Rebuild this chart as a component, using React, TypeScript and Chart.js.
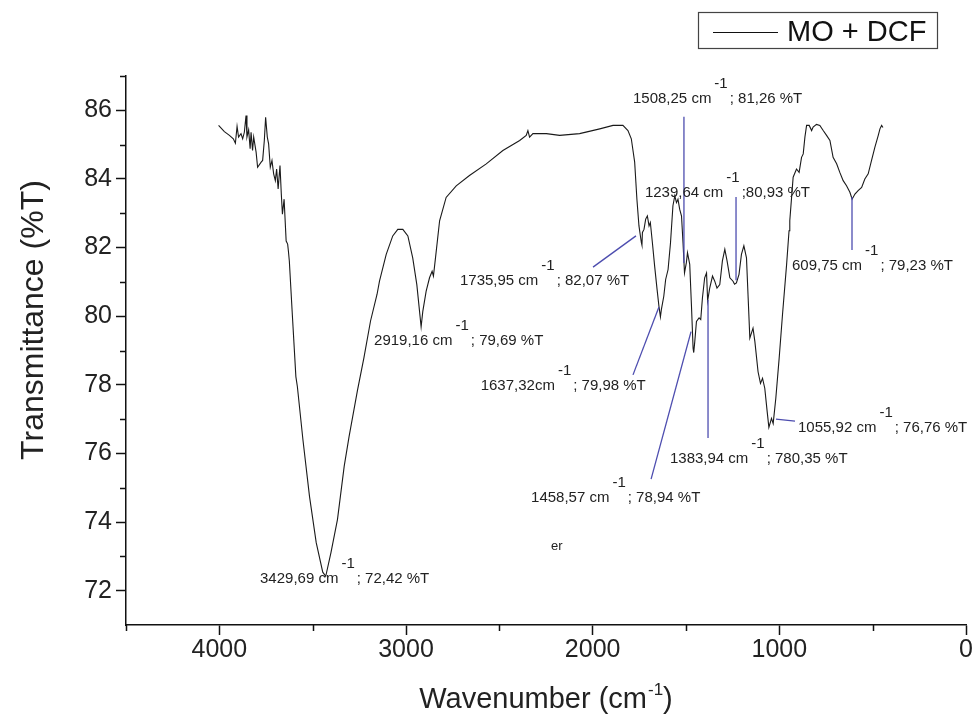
import React, { useEffect, useRef } from 'react';
import { Chart, registerables } from 'chart.js';

Chart.register(...registerables);

// ---------- data ----------
const seriesLabel = 'MO + DCF';

const wavenumbers = [
  4004, 3973, 3946, 3925, 3914, 3905, 3897, 3884, 3875, 3866, 3857, 3852, 3843, 3835, 3830, 3822, 3816, 3803, 3795, 3776,
  3768, 3759, 3752, 3743, 3736, 3727, 3718, 3709, 3700, 3693, 3685, 3675, 3668, 3662, 3653, 3642, 3634, 3630, 3625,
  3609, 3590, 3582, 3552, 3517, 3481, 3446, 3430, 3402, 3367, 3331, 3305, 3260, 3225, 3190, 3155,
  3142, 3106, 3071, 3044, 3017, 2990, 2964, 2942, 2919, 2910, 2892, 2874, 2860, 2853, 2842, 2820, 2785, 2731, 2660, 2570,
  2481, 2391, 2356, 2347, 2338, 2320, 2248, 2177, 2070, 1962, 1891, 1838, 1811,
  1793, 1775, 1763, 1752, 1739, 1736, 1733.5, 1725, 1716, 1707, 1698, 1691, 1680, 1668, 1655, 1645, 1637, 1632, 1619,
  1609, 1596, 1583, 1570, 1560, 1551, 1543, 1534, 1524, 1516, 1508, 1498, 1492, 1480, 1471, 1462, 1458.6, 1453, 1444,
  1430, 1421, 1412, 1400, 1390, 1384, 1373, 1358, 1346, 1334, 1319, 1305, 1292, 1280, 1265, 1248, 1240, 1230, 1216,
  1203, 1190, 1176, 1167, 1158, 1141, 1131, 1114, 1101, 1090, 1078, 1065, 1056, 1042, 1033, 1019, 1001, 983, 961,
  948, 944, 926, 908, 894, 881, 872, 863, 854, 840, 827, 819, 801, 783, 765, 747, 729, 712, 693, 676, 658, 640, 622,
  610, 595, 578, 559, 542, 524, 506, 488, 470, 461, 452, 445,
];

const transmittance = [
  85.56, 85.38, 85.27, 85.17, 85.04, 85.53, 85.22, 85.32, 85.17, 85.36, 85.85, 85.22, 85.43, 84.88, 85.36, 84.83, 85.22, 84.78, 84.34, 84.49,
  84.54, 85.12, 85.80, 85.22, 85.02, 84.34, 84.54, 84.15, 83.95, 84.29, 83.71, 84.39, 83.56, 82.97, 83.41, 82.19, 82.10, 81.90, 81.61,
  80.05, 78.24, 77.95, 76.39, 74.75, 73.40, 72.54, 72.42, 73.11, 74.08, 75.63, 76.49, 77.84, 78.80, 79.86, 80.64,
  81.02, 81.80, 82.34, 82.53, 82.53, 82.34, 81.70, 80.92, 79.69, 80.14, 80.73, 81.12, 81.31, 81.17, 81.70, 82.78, 83.46, 83.80, 84.10, 84.44,
  84.83, 85.12, 85.27, 85.41, 85.22, 85.32, 85.32, 85.27, 85.32, 85.46, 85.56, 85.56, 85.41,
  85.17, 84.49, 83.41, 82.63, 82.14, 82.07, 82.44, 82.53, 82.83, 82.92, 82.63, 82.73, 82.14, 81.46, 80.78, 80.29, 79.98, 80.19, 80.58,
  81.07, 81.36, 82.14, 83.22, 83.51, 83.31, 83.41, 83.12, 82.92, 82.14, 81.26, 81.56, 81.85, 81.51, 80.34, 79.07, 78.94, 79.26, 79.85,
  79.95, 79.90, 80.53, 81.12, 81.26, 80.45, 80.82, 81.17, 81.02, 80.82, 80.92, 81.61, 81.95, 81.61, 81.12, 81.02, 80.93, 80.97, 81.22,
  81.80, 82.05, 81.70, 80.53, 79.36, 79.65, 79.26, 78.38, 78.04, 78.19, 77.90, 77.21, 76.76, 77.02, 76.87, 77.60, 78.77, 80.05, 81.51,
  82.49, 82.78, 84.05, 84.29, 84.19, 84.63, 84.73, 85.22, 85.56, 85.56, 85.41, 85.51, 85.59, 85.56, 85.41, 85.27, 85.12, 84.63, 84.44, 84.19, 83.95, 83.80, 83.61,
  83.41, 83.56, 83.66, 83.75, 84.00, 84.15, 84.54, 84.93, 85.27, 85.46, 85.56, 85.50,
];

const xTickLabels = ['4000', '3000', '2000', '1000', '0'];
const yTickLabels = ['72', '74', '76', '78', '80', '82', '84', '86'];
const xMinorTicks = [4500, 3500, 2500, 1500, 500];
const yMinorTicks = [73, 75, 77, 79, 81, 83, 85, 87];

const xTitleMain = 'Wavenumber (cm';
const xTitleSup = '-1';
const xTitleEnd = ')';
const yTitle = 'Transmittance (%T)';

// peak annotations: label parts, label anchor (data units), leader line (data units)
const peakNames = ['3429,69 cm', '2919,16 cm', '1735,95 cm', '1637,32cm', '1508,25 cm', '1239,64 cm', '609,75 cm', '1055,92 cm', '1383,94 cm', '1458,57 cm'];
const peakValues = ['; 72,42 %T', '; 79,69 %T', '; 82,07 %T', '; 79,98 %T', '; 81,26 %T', ';80,93 %T', '; 79,23 %T', '; 76,76 %T', '; 780,35 %T', '; 78,94 %T'];
const labelX = [3782, 3171, 2711, 2600, 1784, 1720, 932, 900, 1586, 2330];
const labelY = [72.22, 79.16, 80.91, 77.85, 86.21, 83.47, 81.35, 76.62, 75.72, 74.58];
const leaderX1 = [null, null, 1998, 1784, 1511, 1232, 610.7, 1018, 1382, 1687];
const leaderY1 = [null, null, 81.43, 78.29, 85.81, 83.47, 83.47, 77.0, 80.47, 75.25];
const leaderX2 = [null, null, 1768, 1645, 1511, 1232, 610.7, 916, 1382, 1473];
const leaderY2 = [null, null, 82.34, 80.27, 81.55, 81.05, 81.93, 76.94, 76.45, 79.55];
const strayText = 'er';
const strayX = 2223;
const strayY = 73.18;

// ---------- drawing helpers ----------
const FONT = '"Liberation Sans", Arial, Helvetica, sans-serif';

function drawText(ctx: CanvasRenderingContext2D, text: string, x: number, y: number, size: number) {
  ctx.save();
  ctx.font = `${size}px ${FONT}`;
  ctx.textAlign = 'left';
  ctx.textBaseline = 'alphabetic';
  ctx.fillText(text, x, y);
  const w = ctx.measureText(text).width;
  ctx.restore();
  return w;
}

function measure(ctx: CanvasRenderingContext2D, text: string, size: number) {
  ctx.save();
  ctx.font = `${size}px ${FONT}`;
  const w = ctx.measureText(text).width;
  ctx.restore();
  return w;
}

const decorPlugin = {
  id: 'decor',
  afterDraw(chart: any) {
    const ctx: CanvasRenderingContext2D = chart.ctx;
    const xs = chart.scales.x;
    const ys = chart.scales.y;
    const area = chart.chartArea;

    // minor ticks
    ctx.save();
    ctx.strokeStyle = '#111';
    ctx.lineWidth = 1.5;
    ctx.beginPath();
    xMinorTicks.forEach((v) => {
      const px = Math.round(xs.getPixelForValue(v)) + 0.5;
      ctx.moveTo(px, area.bottom);
      ctx.lineTo(px, area.bottom + 6);
    });
    yMinorTicks.forEach((v) => {
      const py = Math.round(ys.getPixelForValue(v)) + 0.5;
      ctx.moveTo(area.left - 6, py);
      ctx.lineTo(area.left, py);
    });
    ctx.stroke();
    ctx.restore();

    // leader lines
    ctx.save();
    ctx.strokeStyle = '#4d4daf';
    ctx.lineWidth = 1.3;
    for (let i = 0; i < peakNames.length; i++) {
      if (leaderX1[i] == null) continue;
      ctx.beginPath();
      ctx.moveTo(xs.getPixelForValue(leaderX1[i]), ys.getPixelForValue(leaderY1[i]));
      ctx.lineTo(xs.getPixelForValue(leaderX2[i]), ys.getPixelForValue(leaderY2[i]));
      ctx.stroke();
    }
    ctx.restore();

    // peak labels
    ctx.save();
    ctx.fillStyle = '#222';
    const fs = 15;
    for (let i = 0; i < peakNames.length; i++) {
      const px = xs.getPixelForValue(labelX[i]);
      const py = ys.getPixelForValue(labelY[i]);
      const w1 = drawText(ctx, peakNames[i], px, py, fs);
      const w2 = drawText(ctx, '-1', px + w1 + 3, py - 15, fs);
      drawText(ctx, peakValues[i], px + w1 + 3 + w2 + 2, py, fs);
    }
    drawText(ctx, strayText, xs.getPixelForValue(strayX), ys.getPixelForValue(strayY), 13);
    ctx.restore();

    // x axis title
    ctx.save();
    ctx.fillStyle = '#222';
    const ts = 29;
    const ss = 17;
    const wMain = measure(ctx, xTitleMain, ts);
    const wSup = measure(ctx, xTitleSup, ss);
    const wEnd = measure(ctx, xTitleEnd, ts);
    const total = wMain + wSup + 1 + wEnd;
    const cx = (area.left + area.right) / 2;
    let tx = cx - total / 2;
    const base = 708;
    tx += drawText(ctx, xTitleMain, tx, base, ts);
    tx += drawText(ctx, xTitleSup, tx + 1, base - 13, ss) + 1;
    drawText(ctx, xTitleEnd, tx, base, ts);
    ctx.restore();

    // y axis title (rotated)
    ctx.save();
    ctx.fillStyle = '#222';
    ctx.font = `32px ${FONT}`;
    ctx.translate(34, 320);
    ctx.rotate(-Math.PI / 2);
    ctx.textAlign = 'center';
    ctx.textBaseline = 'middle';
    ctx.fillText(yTitle, 0, 0);
    ctx.restore();

    // legend box
    ctx.save();
    const label = chart.data.datasets[0].label;
    ctx.strokeStyle = '#444';
    ctx.lineWidth = 1.2;
    ctx.strokeRect(698.5, 12.5, 239, 36);
    ctx.strokeStyle = '#111';
    ctx.lineWidth = 1.2;
    ctx.beginPath();
    ctx.moveTo(713, 32.5);
    ctx.lineTo(778, 32.5);
    ctx.stroke();
    ctx.fillStyle = '#111';
    drawText(ctx, label, 787, 41, 29);
    ctx.restore();
  },
};

export default function App() {
  const canvasRef = useRef<HTMLCanvasElement | null>(null);

  useEffect(() => {
    const canvas = canvasRef.current;
    if (!canvas) return;
    const points = wavenumbers.map((w, i) => ({ x: w, y: transmittance[i] }));
    const chart = new Chart(canvas, {
      type: 'line',
      data: {
        datasets: [
          {
            label: seriesLabel,
            data: points,
            borderColor: '#1a1a1a',
            borderWidth: 1.1,
            pointRadius: 0,
            tension: 0,
            fill: false,
          },
        ],
      },
      options: {
        animation: false,
        responsive: false,
        maintainAspectRatio: false,
        layout: { padding: { top: 76, right: 7, left: 0, bottom: 0 } },
        plugins: {
          legend: { display: false },
          tooltip: { enabled: false },
        },
        scales: {
          x: {
            type: 'linear',
            min: 0,
            max: 4500,
            reverse: true,
            afterFit: (scale: any) => {
              scale.height = 90;
            },
            border: { display: true, color: '#111', width: 1.5 },
            grid: {
              display: true,
              drawOnChartArea: false,
              drawTicks: true,
              tickLength: 10,
              tickWidth: 1.5,
              tickColor: (c: any) => (c.tick && xTickLabels.includes(String(c.tick.value)) ? '#111' : 'rgba(0,0,0,0)'),
            },
            ticks: {
              stepSize: 500,
              autoSkip: false,
              maxRotation: 0,
              padding: 0,
              color: '#222',
              font: { family: FONT, size: 25 },
              callback: (v: any) => (xTickLabels.includes(String(v)) ? String(v) : ''),
            },
          },
          y: {
            type: 'linear',
            min: 71,
            max: 87,
            afterFit: (scale: any) => {
              scale.width = 126;
            },
            border: { display: true, color: '#111', width: 1.5 },
            grid: {
              display: true,
              drawOnChartArea: false,
              drawTicks: true,
              tickLength: 10,
              tickWidth: 1.5,
              tickColor: (c: any) => (c.tick && yTickLabels.includes(String(c.tick.value)) ? '#111' : 'rgba(0,0,0,0)'),
            },
            ticks: {
              stepSize: 1,
              autoSkip: false,
              padding: 4,
              color: '#222',
              font: { family: FONT, size: 25 },
              callback: (v: any) => (yTickLabels.includes(String(v)) ? String(v) : ''),
            },
          },
        },
      },
      plugins: [decorPlugin],
    });
    return () => chart.destroy();
  }, []);

  return (
    <div style={{ position: 'fixed', left: 0, top: 0, width: 973, height: 715, background: '#fff' }}>
      <canvas ref={canvasRef} width={973} height={715} style={{ display: 'block', width: 973, height: 715 }} />
    </div>
  );
}
